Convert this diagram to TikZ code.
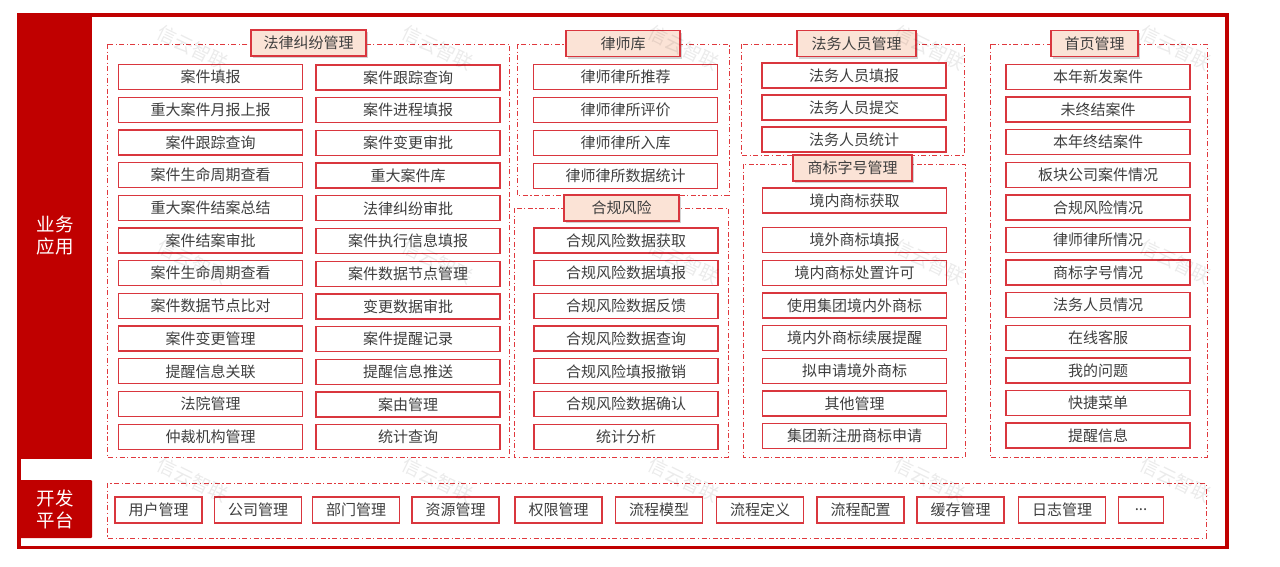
\documentclass[tikz,border=0pt]{standalone}
\usepackage{fontspec}
\setmainfont{Noto Sans CJK SC}
\usetikzlibrary{shadows}
\definecolor{mainred}{HTML}{C00000}
\definecolor{boxred}{HTML}{D9363E}
\definecolor{dashred}{HTML}{E0393E}
\definecolor{peach}{HTML}{FBE3D6}
\definecolor{txtgray}{HTML}{3F3F3F}

\begin{document}
\begin{tikzpicture}[x=1pt,y=-1pt,
  item/.style={draw=boxred,fill=white,line width=1.3pt,minimum width=184pt,minimum height=25pt,inner sep=0pt,text=txtgray,font=\fontsize{15}{15}\selectfont},
  ttl/.style={draw=boxred,fill=peach,line width=1.3pt,minimum height=26pt,inner sep=0pt,text=txtgray,font=\fontsize{15}{15}\selectfont,drop shadow={shadow xshift=2pt,shadow yshift=-2pt,opacity=.35}},
  grp/.style={dashred,line width=1pt,dash pattern=on 5pt off 2.5pt on 1.2pt off 2.5pt},
  side/.style={text=white,align=center,font=\fontsize{18.5}{22}\selectfont},
  wm/.style={text=black,opacity=.08,rotate=-26,font=\fontsize{19}{19}\selectfont}]
\useasboundingbox (0,0) rectangle (1280,566);

% outer frame and side bars
\fill[mainred] (17,13) rectangle (92,459);
\fill[mainred,rounded corners=1pt] (18,480) rectangle (92,538);
\draw[mainred,line width=3.5pt] (18.75,14.75) rectangle (1227,547.5);
\node[side] (yw) at (55,236) {业务\\应用};
\node[side] (kf) at (55,509) {开发\\平台};

% dash-dot groups
\draw[grp] (107,44) rectangle (509,457);
\draw[grp] (517,44) rectangle (729,195);
\draw[grp] (514,208) rectangle (728,457);
\draw[grp] (741,44) rectangle (964,155);
\draw[grp] (743,164) rectangle (965,457);
\draw[grp] (990,44) rectangle (1207,457);
\draw[grp] (107,483) rectangle (1206,538);

% group titles
\node[ttl,minimum width=115pt] (t1) at (308.5,43) {法律纠纷管理};
\node[ttl,minimum width=114pt] (t2) at (623,43.5) {律师库};
\node[ttl,minimum width=119pt] (t3) at (856.5,43.5) {法务人员管理};
\node[ttl,minimum width=87pt] (t4) at (1094.5,43.5) {首页管理};
\node[ttl,minimum width=115pt] (t5) at (621.5,208) {合规风险};
\node[ttl,minimum width=119pt] (t6) at (852.5,168) {商标字号管理};

% 法律纠纷管理
\foreach \t [count=\i] in {案件填报,重大案件月报上报,案件跟踪查询,案件生命周期查看,重大案件结案总结,案件结案审批,案件生命周期查看,案件数据节点比对,案件变更管理,提醒信息关联,法院管理,仲裁机构管理}
  \node[item] (fa\i) at (210.5,{77+32.7*(\i-1)}) {\t};
\foreach \t [count=\i] in {案件跟踪查询,案件进程填报,案件变更审批,重大案件库,法律纠纷审批,案件执行信息填报,案件数据节点管理,变更数据审批,案件提醒记录,提醒信息推送,案由管理,统计查询}
  \node[item] (fb\i) at (408,{77.5+32.7*(\i-1)}) {\t};

% 律师库
\foreach \t [count=\i] in {律师律所推荐,律师律所评价,律师律所入库,律师律所数据统计}
  \node[item] (ls\i) at (625.5,{77+33*(\i-1)}) {\t};

% 合规风险
\foreach \t [count=\i] in {合规风险数据获取,合规风险数据填报,合规风险数据反馈,合规风险数据查询,合规风险填报撤销,合规风险数据确认,统计分析}
  \node[item] (hg\i) at (626,{240.5+32.7*(\i-1)}) {\t};

% 法务人员管理
\foreach \t [count=\i] in {法务人员填报,法务人员提交,法务人员统计}
  \node[item] (fw\i) at (854,{75.5+32*(\i-1)}) {\t};

% 商标字号管理
\node[item] (sb1) at (854.5,200.5) {境内商标获取};
\foreach \t [count=\i from 2] in {境外商标填报,境内商标处置许可,使用集团境内外商标,境内外商标续展提醒,拟申请境外商标,其他管理,集团新注册商标申请}
  \node[item] (sb\i) at (854.5,{240+32.7*(\i-2)}) {\t};

% 首页管理
\foreach \t [count=\i] in {本年新发案件,未终结案件,本年终结案件,板块公司案件情况,合规风险情况,律师律所情况,商标字号情况,法务人员情况,在线客服,我的问题,快捷菜单,提醒信息}
  \node[item] (sy\i) at (1098,{77+32.6*(\i-1)}) {\t};

% 开发平台
\foreach \x/\t [count=\i] in {158.5/用户管理,258/公司管理,356/部门管理,455.5/资源管理,558.5/权限管理,659/流程模型,760/流程定义,860.5/流程配置,960.5/缓存管理,1062/日志管理}
  \node[item,minimum width=87pt,minimum height=26pt] (pt\i) at (\x,510) {\t};
\node[item,minimum width=45pt,minimum height=26pt] (pt11) at (1141,510) {...};

% watermark
\foreach \x in {193,438,684,930,1176}
  \foreach \y in {48,262,480}
    \node[wm] (wm-\x-\y) at (\x,\y) {信云智联};
\end{tikzpicture}
\end{document}
